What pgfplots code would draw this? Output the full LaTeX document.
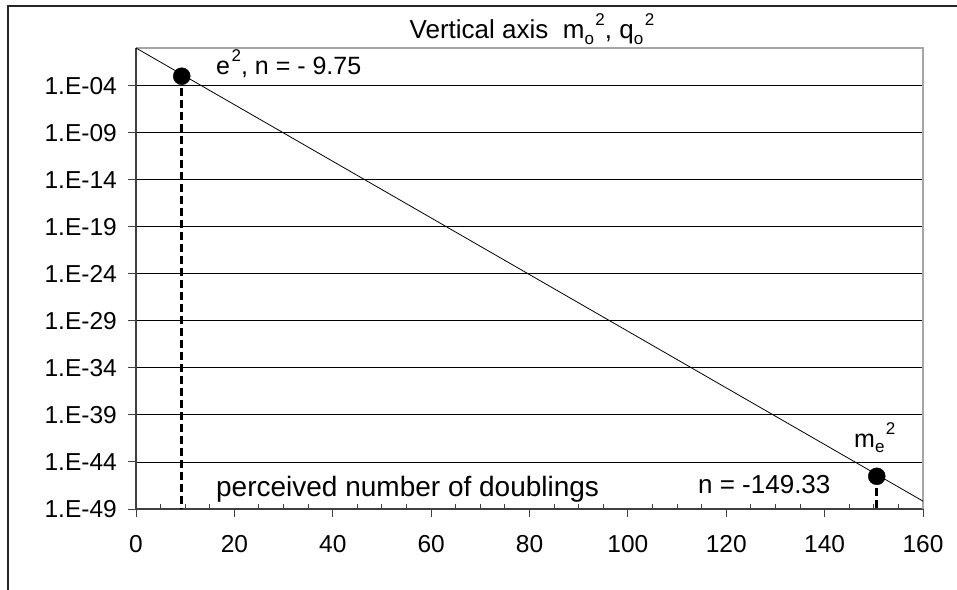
\documentclass[border=0pt]{standalone}
\usepackage{pgfplots}
\pgfplotsset{compat=1.18}
\usepackage{fontspec}
\setmainfont{Liberation Sans}
\newcommand{\sups}[1]{\raisebox{0.5em}{\fontsize{17bp}{19bp}\selectfont\kern1.5bp #1}}
\newcommand{\subs}[1]{\raisebox{-0.22em}{\fontsize{17bp}{19bp}\selectfont #1}}
\begin{document}
\fontsize{24bp}{28bp}\selectfont
\begin{tikzpicture}
\path[use as bounding box] (0,0) rectangle (957bp,-590bp);
\draw[line width=2bp, black!85] (8bp,-595bp) -- (8bp,-6bp) -- (962bp,-6bp);
\begin{axis}[
  at={(136bp,-509bp)}, anchor=south west,
  scale only axis, width=787bp, height=461bp,
  ymode=log, log basis y=10,
  xmin=0, xmax=160, ymin=1e-49, ymax=1,
  xtick={0,20,40,60,80,100,120,140,160}, minor x tick num=3,
  ytick={1e-49,1e-44,1e-39,1e-34,1e-29,1e-24,1e-19,1e-14,1e-9,1e-4},
  yticklabels={1.E-49,1.E-44,1.E-39,1.E-34,1.E-29,1.E-24,1.E-19,1.E-14,1.E-09,1.E-04},
  ymajorgrids, major grid style={black, line width=0.9bp},
  axis x line*=bottom, axis y line*=left,
  axis line style={black!75, line width=1.6bp, -},
  tick align=outside, major tick length=8bp, minor tick length=5bp,
  tick style={black!75, line width=1bp},
  minor x tick style={yshift=5bp},
  /pgf/number format/assume math mode=true,
  ticklabel style={font=\fontsize{24.5bp}{28bp}\selectfont},
  xticklabel style={yshift=-10bp},
  yticklabel style={xshift=-3bp},
  clip=false,
]
\draw[gray!70, line width=1.6bp] (rel axis cs:0,1) -- (rel axis cs:1,1) -- (rel axis cs:1,0);
\addplot[black, line width=0.8bp] coordinates {
  (0,1) (10,9.765625e-4) (20,9.537e-7) (30,9.313e-10) (40,9.095e-13)
  (50,8.882e-16) (60,8.674e-19) (70,8.470e-22) (80,8.272e-25)
  (90,8.078e-28) (100,7.889e-31) (110,7.704e-34) (120,7.523e-37)
  (130,7.347e-40) (140,7.175e-43) (150,7.006e-46) (160,6.842e-49)
};
\addplot[black, line width=3bp, dash pattern=on 8bp off 4bp] coordinates {(9.3,1e-3) (9.3,1e-49)};
\addplot[black, line width=3bp, dash pattern=on 8bp off 4bp] coordinates {(150.6,3e-46) (150.6,1e-49)};
\addplot[only marks, mark=*, mark size=8.5bp, black] coordinates {(9.3,1e-3) (150.6,3e-46)};
\node[anchor=base, font=\fontsize{26bp}{30bp}\selectfont] at (axis cs:80.5,9.1) {Vertical axis\ \ m\subs{o}\sups{2}, q\subs{o}\sups{2}};
\node[anchor=base west, inner sep=0, font=\fontsize{25bp}{29bp}\selectfont] at (axis cs:16.26,1.7e-3) {e\sups{2}, n = - 9.75};
\node[anchor=base west, inner sep=0, font=\fontsize{28bp}{32bp}\selectfont] at (axis cs:16.26,2.4e-48) {perceived number of doublings};
\node[anchor=base west, inner sep=0, font=\fontsize{26bp}{30bp}\selectfont] at (axis cs:114.25,5e-48) {n = -149.33};
\node[anchor=base west, inner sep=0, font=\fontsize{25bp}{29bp}\selectfont] at (axis cs:145.97,3.9e-43) {m\subs{e}\sups{2}};
\end{axis}
\end{tikzpicture}
\end{document}
